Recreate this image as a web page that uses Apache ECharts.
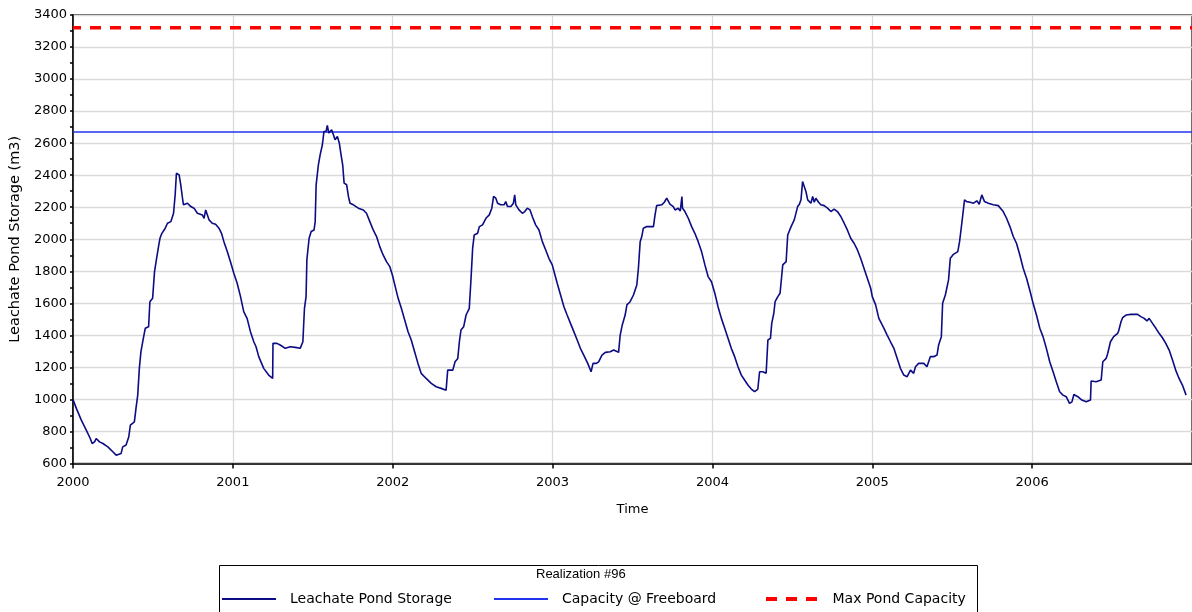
<!DOCTYPE html>
<html>
<head>
<meta charset="utf-8">
<script src="https://cdn.jsdelivr.net/npm/echarts@6/dist/echarts.min.js"></script>
<style>
html,body{margin:0;padding:0;background:#fff;}
#chart{width:1192px;height:612px;}
</style>
</head>
<body>
<div id="chart"></div>
<script>
// Time in years since 2000-01-01
const timeYears = [
0.000,0.021,0.052,0.083,0.108,0.120,0.135,0.145,0.166,0.187,0.218,0.249,0.270,0.301,0.311,0.332,0.349,0.359,0.384,0.394,
0.405,0.415,0.425,0.440,0.452,0.473,0.481,0.498,0.510,0.523,0.535,0.544,0.556,0.577,0.591,0.612,0.629,0.639,0.647,0.656,
0.664,0.674,0.685,0.691,0.716,0.737,0.757,0.778,0.809,0.820,0.830,0.840,0.851,0.871,0.892,0.913,0.929,0.944,0.965,0.985,
1.006,1.027,1.048,1.068,1.089,1.110,1.131,1.145,1.162,
1.193,1.224,1.249,1.251,1.276,1.296,1.328,1.359,1.390,1.421,1.438,1.442,1.448,1.458,1.463,1.477,1.490,1.508,1.515,1.521,
1.535,1.546,1.560,1.570,1.583,1.591,1.600,1.612,1.618,1.629,1.639,1.654,1.666,1.677,1.687,1.696,1.712,1.723,1.733,1.754,
1.785,1.816,1.836,1.857,1.878,1.899,1.919,1.940,1.961,1.982,1.998,2.013,2.034,2.054,2.075,2.096,2.116,2.137,2.158,2.178,
2.209,2.241,2.272,2.303,
2.334,2.344,2.376,2.390,2.407,2.417,2.427,2.444,2.459,2.479,2.490,2.500,2.510,2.531,2.542,2.562,2.583,2.604,2.620,2.631,
2.645,2.656,2.676,2.697,2.707,2.718,2.739,2.755,2.763,2.770,2.790,2.811,2.826,2.842,2.859,2.873,2.894,2.915,2.936,2.957,
2.977,2.998,3.012,3.029,3.050,3.071,3.091,3.112,3.133,3.154,3.174,3.195,3.220,3.241,3.253,3.274,3.288,3.309,3.330,3.361,
3.382,3.413,3.423,3.436,3.454,3.465,
3.485,3.506,3.527,3.537,3.548,3.558,3.568,3.589,3.631,3.641,3.651,3.683,3.699,3.714,3.734,3.755,3.766,3.786,3.799,3.809,
3.813,3.828,3.849,3.870,3.890,3.911,3.932,3.953,3.973,3.994,4.015,4.035,4.056,4.077,4.098,4.118,4.139,4.160,4.181,4.201,
4.222,4.243,4.264,4.284,4.295,4.315,4.336,4.347,4.363,4.371,4.384,4.392,4.409,4.423,4.429,4.440,4.461,4.471,4.492,4.512,
4.533,4.544,4.554,4.564,4.575,4.585,4.596,
4.616,4.627,4.637,4.647,4.664,4.678,4.699,4.720,4.741,4.761,4.782,4.803,4.824,4.844,4.865,4.886,4.907,4.927,4.948,4.969,
4.990,5.000,5.021,5.041,5.062,5.073,5.093,5.114,5.135,5.156,5.176,5.197,5.218,5.239,5.259,5.270,5.290,5.322,5.342,5.363,
5.384,5.405,5.415,5.432,5.440,5.457,5.477,5.488,5.508,5.535,5.546,5.560,5.577,5.591,5.612,5.633,5.654,5.669,5.685,5.702,
5.726,5.757,
5.768,5.788,5.819,5.840,5.861,5.882,5.902,5.923,5.944,5.965,5.985,6.006,6.027,6.048,6.068,6.089,6.110,6.131,6.151,6.172,
6.193,6.213,6.234,6.249,6.261,6.286,6.311,6.338,6.365,6.369,6.400,6.432,6.442,6.463,6.473,6.490,6.510,6.535,6.541,6.556,
6.566,6.587,6.618,6.660,6.680,6.701,6.718,6.732,6.753,6.774,6.794,6.815,6.836,6.857,6.878,6.898,6.919,6.940,6.963
];
// Leachate Pond Storage (m3)
const pondStorage = [
1000,944,871,808,756,725,735,756,735,725,704,673,652,663,704,715,767,840,860,944,
1027,1194,1298,1381,1444,1454,1610,1631,1798,1881,1954,2006,2037,2069,2100,2110,2162,2277,2412,2423,
2402,2340,2256,2215,2225,2204,2194,2162,2152,2131,2183,2173,2121,2100,2094,2069,2037,1985,1923,1860,
1788,1725,1642,1548,1506,1423,1360,1329,1267,
1194,1152,1131,1350,1350,1340,1319,1329,1325,1319,1360,1444,1569,1642,1871,2006,2048,2058,2110,2340,
2465,2527,2590,2673,2673,2710,2663,2652,2683,2652,2621,2642,2600,2527,2465,2350,2340,2267,2225,2215,
2194,2183,2162,2110,2058,2017,1954,1902,1860,1829,1777,1715,1631,1569,1496,1423,1371,1298,1225,1163,
1131,1100,1079,1069,
1058,1183,1183,1235,1256,1360,1433,1454,1527,1569,1756,1944,2027,2037,2079,2090,2131,2152,2194,2267,
2256,2225,2215,2215,2235,2204,2204,2225,2277,2215,2183,2162,2173,2194,2183,2142,2090,2058,1985,1933,
1881,1840,1788,1725,1652,1579,1527,1475,1423,1371,1319,1277,1225,1173,1225,1225,1235,1277,1294,1298,
1308,1294,1402,1465,1527,1590,
1610,1652,1715,1819,1985,2017,2069,2079,2079,2152,2210,2215,2231,2256,2219,2204,2183,2194,2177,2267,
2194,2173,2131,2079,2037,1985,1923,1840,1767,1735,1663,1579,1506,1444,1381,1319,1267,1204,1152,1121,
1090,1065,1048,1065,1173,1173,1163,1371,1381,1475,1538,1610,1642,1663,1673,1840,1860,2027,2079,2121,
2204,2219,2246,2360,2350,2298,2246,
2225,2267,2231,2256,2231,2215,2210,2194,2173,2188,2173,2142,2100,2058,2006,1975,1933,1881,1819,1756,
1694,1642,1590,1506,1465,1444,1402,1360,1319,1256,1194,1152,1142,1183,1163,1204,1225,1225,1204,1267,
1267,1277,1340,1392,1600,1652,1746,1881,1906,1923,1985,2100,2246,2235,2231,2225,2240,2219,2277,2235,
2225,2215,
2204,2210,2173,2131,2079,2017,1975,1902,1819,1756,1683,1600,1527,1444,1392,1319,1235,1173,1110,1048,
1027,1017,975,985,1031,1017,996,985,996,1115,1110,1121,1235,1256,1288,1360,1392,1413,1427,1485,
1510,1527,1531,1531,1517,1506,1490,1506,1475,1444,1413,1385,1350,1308,1246,1183,1131,1090,1027
];
const capacityFreeboard = 2670;
const maxPondCapacity = 3320;
const startYear = 2000;
const endYear = 2007;
const seriesNames = ['Leachate Pond Storage', 'Capacity @ Freeboard', 'Max Pond Capacity'];
const legendTitle = 'Realization #96';
const yAxisTitle = 'Leachate Pond Storage (m3)';
const xAxisTitle = 'Time';

const storageData = timeYears.map((t, i) => [startYear + t, pondStorage[i]]);
const FONT = 'DejaVu Sans';
const NAVY = '#0c0c84';
const BLUE = '#2233ee';
const RED = '#ff0000';

const legendText = {fontSize: 14, fontFamily: FONT, color: '#000', padding: [0, 0, 0, 9]};
const solidIcon = 'rect';
const dashIcon = 'path://M0,0h11v4h-11z M20,0h11v4h-11z M40,0h11v4h-11z';

const chart = echarts.init(document.getElementById('chart'), null, {renderer: 'canvas'});
chart.setOption({
  animation: false,
  backgroundColor: '#ffffff',
  textStyle: {fontFamily: FONT},
  grid: {
    left: 73, top: 15, right: -6, bottom: 148.5,
    show: true, borderColor: '#222', borderWidth: 1.5, backgroundColor: 'transparent'
  },
  xAxis: {
    type: 'value', min: startYear, max: endYear, interval: 1,
    name: xAxisTitle, nameLocation: 'middle', nameGap: 40,
    nameTextStyle: {color: '#000', fontSize: 13, fontFamily: FONT},
    axisLine: {show: true, lineStyle: {color: '#000', width: 1.5}},
    axisTick: {show: true, length: 5, lineStyle: {color: '#000', width: 1.5}},
    axisLabel: {color: '#000', fontSize: 13, fontFamily: FONT, margin: 13, showMaxLabel: false,
      formatter: v => String(Math.round(v))},
    splitLine: {show: true, lineStyle: {color: '#dadada', width: 1.3}}
  },
  yAxis: {
    type: 'value', min: 600, max: 3400, interval: 200,
    name: yAxisTitle, nameLocation: 'middle', nameGap: 47,
    nameTextStyle: {color: '#000', fontSize: 14.5, fontFamily: FONT},
    axisLine: {show: true, lineStyle: {color: '#000', width: 1.5}},
    axisTick: {show: true, length: 3, lineStyle: {color: '#000', width: 1.5}},
    minorTick: {show: true, splitNumber: 2, length: 3, lineStyle: {color: '#000', width: 1.5}},
    axisLabel: {color: '#000', fontSize: 13, fontFamily: FONT, margin: 6,
      formatter: v => String(v)},
    splitLine: {show: true, lineStyle: {color: '#dadada', width: 1.3}}
  },
  legend: [
    {data: [{name: seriesNames[0], icon: solidIcon}], left: 222, top: 592, padding: 0,
     itemWidth: 54, itemHeight: 2, textStyle: legendText},
    {data: [{name: seriesNames[1], icon: solidIcon}], left: 494, top: 592, padding: 0,
     itemWidth: 54, itemHeight: 2, textStyle: legendText},
    {data: [{name: seriesNames[2], icon: dashIcon}], left: 766, top: 592, padding: 0,
     itemWidth: 54, itemHeight: 4, textStyle: legendText}
  ],
  graphic: [
    {type: 'rect', left: 217, top: 563, shape: {width: 758, height: 70},
     style: {fill: 'none', stroke: '#000', lineWidth: 1}, z: 0},
    {type: 'text', left: 536, top: 568,
     style: {text: legendTitle, fill: '#000', font: '13px "Liberation Sans"'}}
  ],
  series: [
    {name: seriesNames[0], type: 'line', data: storageData, symbol: 'none', z: 3,
     lineStyle: {color: NAVY, width: 1.6}, itemStyle: {color: NAVY}},
    {name: seriesNames[1], type: 'line', data: [[startYear, capacityFreeboard], [endYear, capacityFreeboard]],
     symbol: 'none', z: 2, lineStyle: {color: BLUE, width: 1.6}, itemStyle: {color: BLUE}},
    {name: seriesNames[2], type: 'line', data: [[startYear, maxPondCapacity], [endYear, maxPondCapacity]],
     symbol: 'none', z: 2, lineStyle: {color: RED, width: 3.5, type: [11, 9], dashOffset: 3}, itemStyle: {color: RED}}
  ]
});
</script>
</body>
</html>
